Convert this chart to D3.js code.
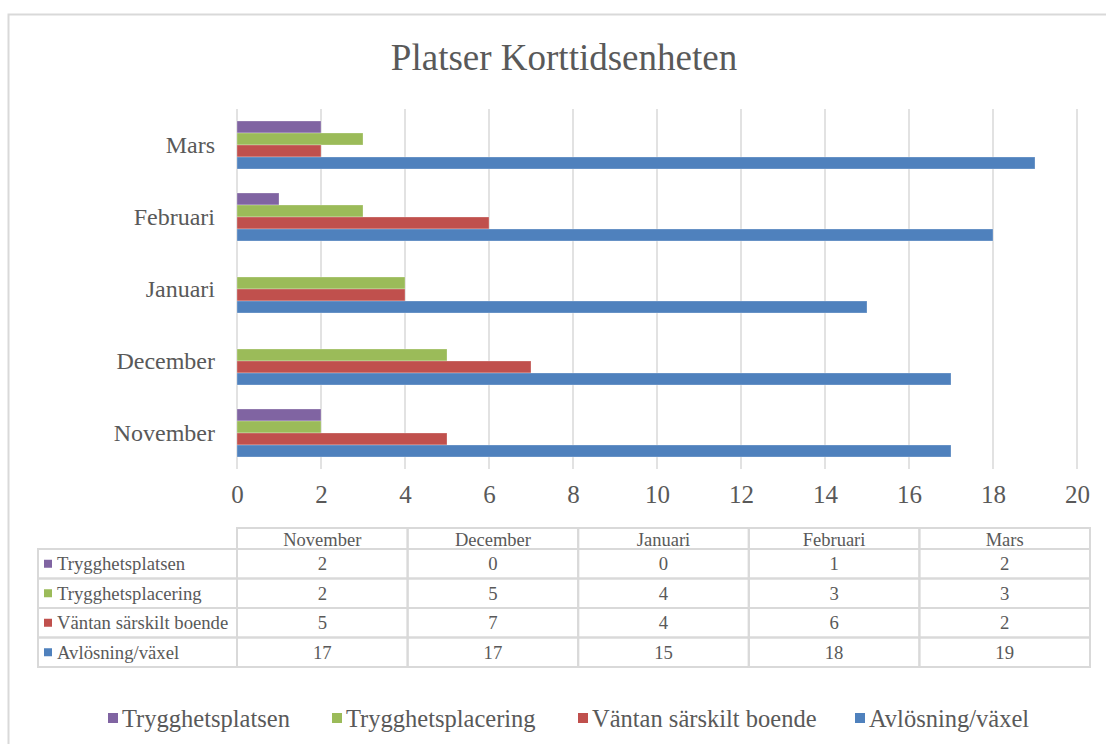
<!DOCTYPE html>
<html>
<head>
<meta charset="utf-8">
<script src="https://cdn.jsdelivr.net/npm/d3@7"></script>
<style>
  html, body { margin: 0; padding: 0; background: #fff; }
  svg text { font-family: "Liberation Serif", "Times New Roman", serif; fill: #595959; }
</style>
</head>
<body>
<svg id="chart" width="1106" height="744"></svg>
<script>
const categories = ["November", "December", "Januari", "Februari", "Mars"];
const seriesNames = ["Trygghetsplatsen", "Trygghetsplacering", "Väntan särskilt boende", "Avlösning/växel"];
const trygghetsplatsen = [2, 0, 0, 1, 2];
const trygghetsplacering = [2, 5, 4, 3, 3];
const vantan = [5, 7, 4, 6, 2];
const avlosning = [17, 17, 15, 18, 19];
const xTicks = [0, 2, 4, 6, 8, 10, 12, 14, 16, 18, 20];
const title = "Platser Korttidsenheten";

const seriesValues = [trygghetsplatsen, trygghetsplacering, vantan, avlosning];
const colors = ["#8064A2", "#9BBB59", "#C0504D", "#4F81BD"];

const svg = d3.select("#chart");

// outer frame
svg.append("rect").attr("x", 8.5).attr("y", 14.5).attr("width", 1110).attr("height", 760)
  .attr("fill", "#fff").attr("stroke", "#D9D9D9").attr("stroke-width", 2);

svg.append("text").attr("x", 564).attr("y", 70).attr("text-anchor", "middle")
  .style("font-size", "37px").text(title);

const x = d3.scaleLinear().domain([0, 20]).range([237, 1077]);
const y = d3.scaleBand().domain(categories.slice().reverse()).range([109, 469])
  .paddingInner(1/3).paddingOuter(1/6);
const ys = d3.scaleBand().domain(seriesNames).range([0, y.bandwidth()]);

// gridlines
svg.append("g").selectAll("line").data(xTicks).join("line")
  .attr("x1", d => x(d)).attr("x2", d => x(d)).attr("y1", 109).attr("y2", 469)
  .attr("stroke", "#D9D9D9").attr("stroke-width", 1.5);

// bars
const groups = svg.append("g").selectAll("g").data(categories).join("g")
  .attr("transform", c => `translate(0,${y(c)})`);
groups.selectAll("rect").data((c, ci) => seriesNames.map((s, si) => ({s, si, v: seriesValues[si][ci]})))
  .join("rect")
  .attr("x", x(0)).attr("y", d => ys(d.s)).attr("width", d => x(d.v) - x(0)).attr("height", ys.bandwidth())
  .attr("fill", d => colors[d.si])
  .attr("stroke", d => d.v > 0 ? "rgba(255,255,255,0.35)" : "none").attr("stroke-width", 0.8);

// x axis labels
const xAxis = d3.axisBottom(x).tickValues(xTicks).tickSize(0).tickPadding(0);
const gx = svg.append("g").attr("transform", "translate(0,485)").call(xAxis);
gx.select(".domain").remove();
gx.selectAll("text").style("font-size", "25px").style("font-family", "Liberation Serif").attr("fill", "#595959").attr("dy", "0.71em");

// y labels
const yAxis = d3.axisLeft(y).tickSize(0).tickPadding(22);
const gy = svg.append("g").attr("transform", `translate(${x(0)},0)`).call(yAxis);
gy.select(".domain").remove();
gy.selectAll("text").style("font-size", "24px").style("font-family", "Liberation Serif").attr("fill", "#595959");

// data table
const tLeft = 38, tColStart = 237, tRight = 1090;
const colScale = d3.scaleBand().domain(categories).range([tColStart, tRight]);
const headTop = 528, headBot = 549;
const rowScale = d3.scaleBand().domain(seriesNames).range([headBot, 667]);
const tg = svg.append("g");
const gridStroke = "#D9D9D9";
// header
tg.selectAll("rect.h").data(categories).join("rect").attr("class", "h")
  .attr("x", c => colScale(c)).attr("y", headTop).attr("width", colScale.bandwidth()).attr("height", headBot - headTop)
  .attr("fill", "none").attr("stroke", gridStroke).attr("stroke-width", 2);
tg.selectAll("text.h").data(categories).join("text").attr("class", "h")
  .attr("x", c => colScale(c) + colScale.bandwidth() / 2).attr("y", (headTop + headBot) / 2 + 1)
  .attr("text-anchor", "middle").attr("dy", "0.35em").style("font-size", "18.5px").text(c => c);
// rows
seriesNames.forEach((s, si) => {
  const ry = rowScale(s), rh = rowScale.bandwidth();
  tg.append("rect").attr("x", tLeft).attr("y", ry).attr("width", tColStart - tLeft).attr("height", rh)
    .attr("fill", "none").attr("stroke", gridStroke).attr("stroke-width", 2);
  tg.append("rect").attr("x", 44).attr("y", ry + rh / 2 - 4).attr("width", 8).attr("height", 8).attr("fill", colors[si]);
  tg.append("text").attr("x", 57).attr("y", ry + rh / 2).attr("dy", "0.35em").style("font-size", "18.7px").text(s);
  categories.forEach((c, ci) => {
    tg.append("rect").attr("x", colScale(c)).attr("y", ry).attr("width", colScale.bandwidth()).attr("height", rh)
      .attr("fill", "none").attr("stroke", gridStroke).attr("stroke-width", 2);
    tg.append("text").attr("x", colScale(c) + colScale.bandwidth() / 2).attr("y", ry + rh / 2)
      .attr("dy", "0.35em").attr("text-anchor", "middle").style("font-size", "18.7px").text(seriesValues[si][ci]);
  });
});

// legend
const legendX = [108, 332, 578, 855];
const lg = svg.append("g");
seriesNames.forEach((s, si) => {
  lg.append("rect").attr("x", legendX[si]).attr("y", 713).attr("width", 10).attr("height", 10).attr("fill", colors[si]);
  lg.append("text").attr("x", legendX[si] + 14).attr("y", 718).attr("dy", "0.35em").style("font-size", "24.5px").text(s);
});
</script>
</body>
</html>
